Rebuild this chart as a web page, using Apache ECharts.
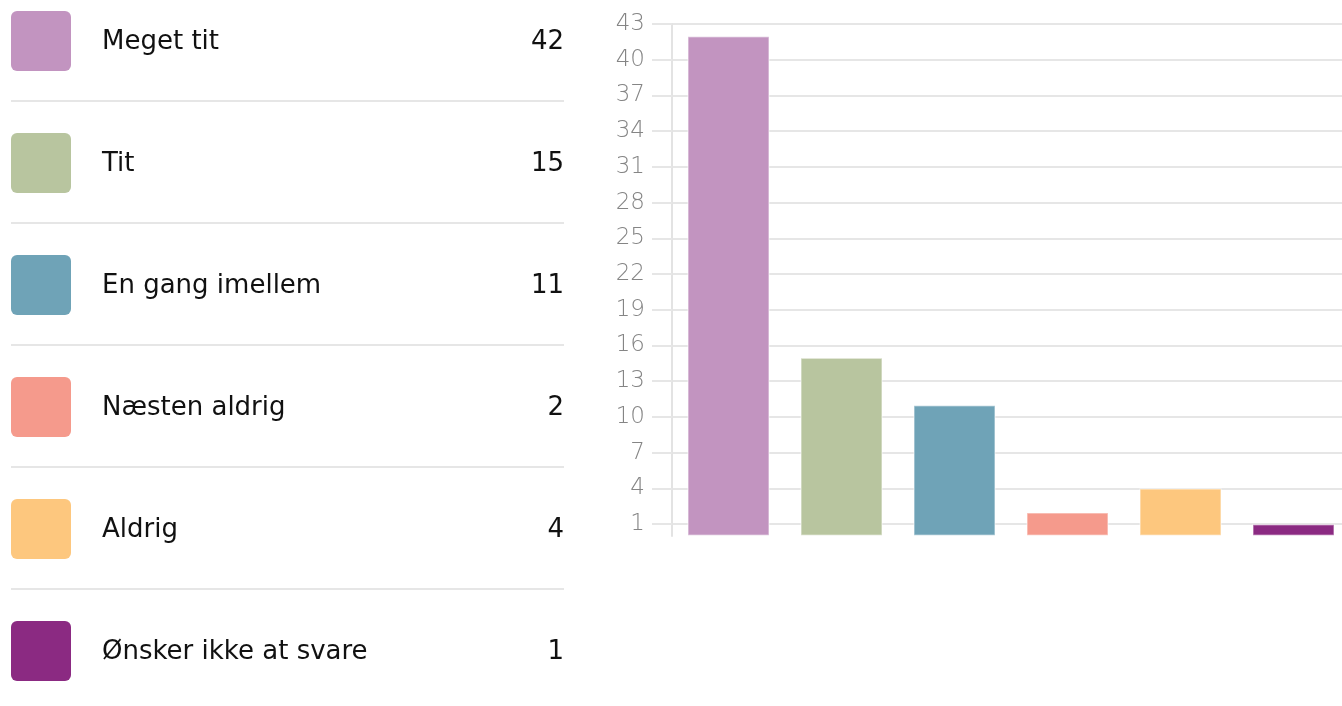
<!DOCTYPE html>
<html>
<head>
<meta charset="utf-8">
<script src="https://cdn.jsdelivr.net/npm/echarts@6/dist/echarts.min.js"></script>
<style>
html,body{margin:0;padding:0;background:#fff;}
#chart{width:1342px;height:706px;}
</style>
</head>
<body>
<div id="chart"></div>
<script>
const categories = ['Meget tit', 'Tit', 'En gang imellem', 'Næsten aldrig', 'Aldrig', 'Ønsker ikke at svare'];
const values = [42, 15, 11, 2, 4, 1];
const colors = ['#c294c0', '#b8c59f', '#6fa3b7', '#f59a8c', '#fdc77e', '#8b2a82'];
const yTicks = [1, 4, 7, 10, 13, 16, 19, 22, 25, 28, 31, 34, 37, 40, 43];

const chart = echarts.init(document.getElementById('chart'));

const FONT = '"DejaVu Sans", sans-serif';
const graphics = [];
const rowH = 122;
categories.forEach((c, i) => {
  const top = 11 + i * rowH;
  graphics.push({
    type: 'rect', shape: {x: 11, y: top, width: 60, height: 60, r: 6},
    style: {fill: colors[i]}
  });
  graphics.push({
    type: 'text', style: {x: 102, y: top + 31, text: c, fill: '#111', fontSize: 26, fontFamily: FONT, verticalAlign: 'middle', align: 'left'}
  });
  graphics.push({
    type: 'text', style: {x: 564, y: top + 31, text: String(values[i]), fill: '#111', fontSize: 26, fontFamily: FONT, verticalAlign: 'middle', align: 'right'}
  });
  if (i < categories.length - 1) {
    graphics.push({
      type: 'line', shape: {x1: 11, y1: top + 90, x2: 564, y2: top + 90},
      style: {stroke: '#e6e6e6', lineWidth: 2}
    });
  }
});

chart.setOption({
  animation: false,
  grid: {left: 672, width: 678, top: 24, bottom: 170, containLabel: false, outerBoundsMode: 'none'},
  xAxis: {
    type: 'category', data: categories,
    axisLine: {show: false}, axisTick: {show: false}, axisLabel: {show: false}, splitLine: {show: false}
  },
  yAxis: {
    type: 'value', min: 0, max: 43,
    axisLine: {show: true, lineStyle: {color: '#e3e3e3', width: 2}},
    axisTick: {show: true, length: 20, customValues: yTicks, lineStyle: {color: '#e6e6e6', width: 2}},
    axisLabel: {customValues: yTicks, margin: 27, color: '#858585', fontSize: 23, fontFamily: FONT, fontWeight: 300},
    splitLine: {show: true, lineStyle: {color: '#e6e6e6', width: 2}}
  },
  series: [{
    type: 'bar',
    data: values.map((v, i) => ({value: v, itemStyle: {color: colors[i]}})),
    barCategoryGap: '27%',
    itemStyle: {borderColor: 'rgba(255,255,255,0.45)', borderWidth: 1.5}
  }],
  graphic: graphics
});
</script>
</body>
</html>
